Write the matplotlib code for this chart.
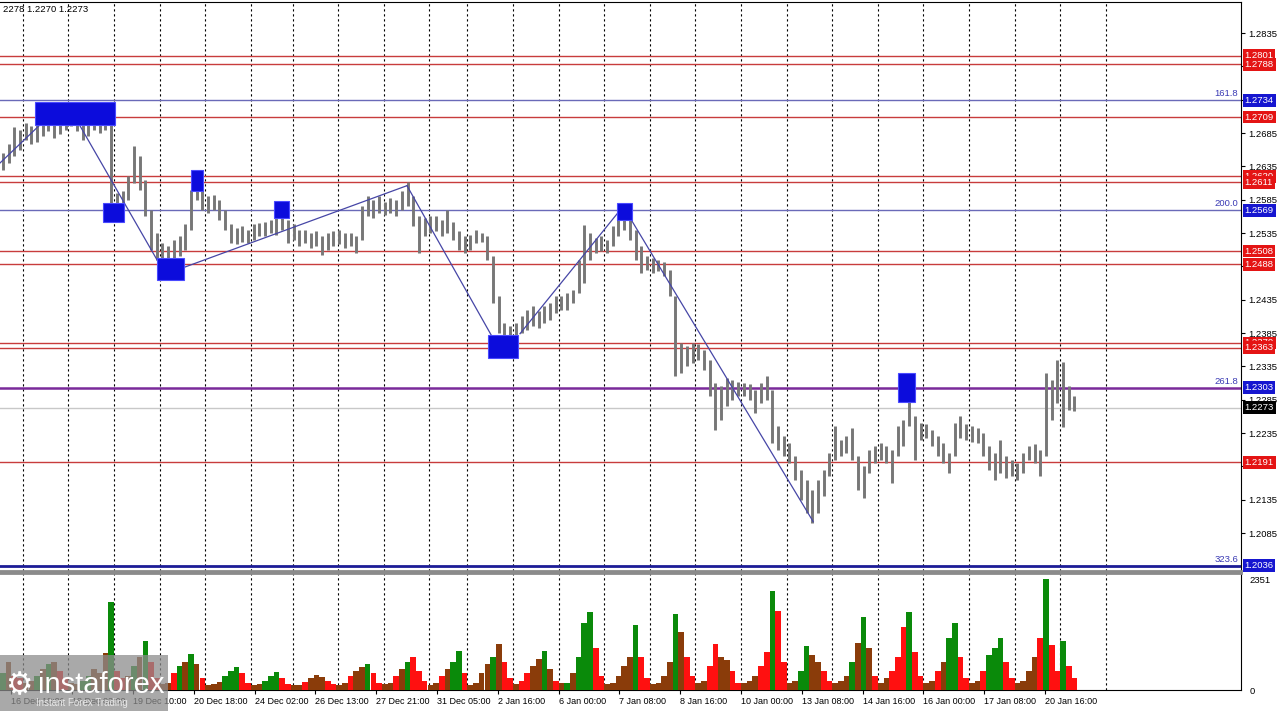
import numpy as np
import matplotlib.pyplot as plt
from matplotlib.patches import Rectangle
from matplotlib.transforms import blended_transform_factory

plt.rcParams['font.family'] = ['Liberation Sans', 'DejaVu Sans']

# 3-hour bars (x axis is in hours)
lows = [
    1.2630, 1.2640, 1.2650, 1.2660, 1.2675, 1.2668, 1.2672, 1.2680, 1.2688, 1.2678,
    1.2684, 1.2690, 1.2695, 1.2688, 1.2675, 1.2680, 1.2690, 1.2685, 1.2690, 1.2575,
    1.2565, 1.2570, 1.2585, 1.2610, 1.2600, 1.2560, 1.2510, 1.2495, 1.2488, 1.2490,
    1.2495, 1.2500, 1.2510, 1.2540, 1.2585, 1.2570, 1.2565, 1.2570, 1.2555, 1.2540,
    1.2520, 1.2518, 1.2522, 1.2520, 1.2525, 1.2530, 1.2530, 1.2535, 1.2532, 1.2540,
    1.2520, 1.2525, 1.2515, 1.2520, 1.2512, 1.2515, 1.2502, 1.2510, 1.2515, 1.2518,
    1.2512, 1.2515, 1.2505, 1.2525, 1.2560, 1.2558, 1.2565, 1.2562, 1.2565, 1.2560,
    1.2570, 1.2575, 1.2545, 1.2505, 1.2530, 1.2535, 1.2538, 1.2530, 1.2535, 1.2525,
    1.2510, 1.2505, 1.2510, 1.2520, 1.2522, 1.2495, 1.2430, 1.2385, 1.2370, 1.2375,
    1.2380, 1.2385, 1.2390, 1.2395, 1.2392, 1.2400, 1.2405, 1.2415, 1.2420, 1.2420,
    1.2430, 1.2445, 1.2460, 1.2495, 1.2505, 1.2508, 1.2505, 1.2515, 1.2530, 1.2540,
    1.2525, 1.2495, 1.2475, 1.2480, 1.2475, 1.2478, 1.2470, 1.2440, 1.2320, 1.2325,
    1.2335, 1.2340, 1.2345, 1.2330, 1.2290, 1.2240, 1.2255, 1.2275, 1.2285, 1.2290,
    1.2290, 1.2285, 1.2265, 1.2280, 1.2285, 1.2220, 1.2210, 1.2200, 1.2190, 1.2165,
    1.2135, 1.2115, 1.2100, 1.2115, 1.2140, 1.2170, 1.2195, 1.2200, 1.2205, 1.2195,
    1.2150, 1.2138, 1.2175, 1.2190, 1.2195, 1.2190, 1.2160, 1.2200, 1.2215, 1.2245,
    1.2195, 1.2225, 1.2228, 1.2215, 1.2200, 1.2190, 1.2175, 1.2200, 1.2228, 1.2225,
    1.2222, 1.2220, 1.2200, 1.2180, 1.2165, 1.2175, 1.2168, 1.2170, 1.2165, 1.2175,
    1.2195, 1.2190, 1.2170, 1.2200, 1.2255, 1.2280, 1.2244, 1.2270, 1.2268,
]
highs = [
    1.2655, 1.2668, 1.2694, 1.2690, 1.2700, 1.2695, 1.2702, 1.2712, 1.2715, 1.2708,
    1.2710, 1.2716, 1.2718, 1.2712, 1.2705, 1.2700, 1.2712, 1.2708, 1.2712, 1.2705,
    1.2595, 1.2598, 1.2620, 1.2665, 1.2650, 1.2615, 1.2570, 1.2535, 1.2520, 1.2515,
    1.2525, 1.2530, 1.2548, 1.2600, 1.2630, 1.2612, 1.2590, 1.2592, 1.2585, 1.2570,
    1.2548, 1.2542, 1.2545, 1.2540, 1.2548, 1.2550, 1.2552, 1.2555, 1.2558, 1.2565,
    1.2555, 1.2548, 1.2540, 1.2540, 1.2535, 1.2538, 1.2530, 1.2535, 1.2538, 1.2540,
    1.2535, 1.2535, 1.2530, 1.2575, 1.2590, 1.2585, 1.2590, 1.2582, 1.2588, 1.2585,
    1.2598, 1.2611, 1.2590, 1.2560, 1.2558, 1.2560, 1.2560, 1.2555, 1.2570, 1.2552,
    1.2538, 1.2530, 1.2532, 1.2540, 1.2535, 1.2530, 1.2500, 1.2440, 1.2400, 1.2395,
    1.2400, 1.2410, 1.2420, 1.2425, 1.2418, 1.2425, 1.2430, 1.2440, 1.2440, 1.2445,
    1.2450, 1.2495, 1.2547, 1.2535, 1.2528, 1.2530, 1.2525, 1.2545, 1.2560, 1.2570,
    1.2565, 1.2540, 1.2515, 1.2500, 1.2498, 1.2495, 1.2492, 1.2480, 1.2440, 1.2370,
    1.2365, 1.2370, 1.2368, 1.2360, 1.2345, 1.2310, 1.2305, 1.2318, 1.2315, 1.2312,
    1.2310, 1.2308, 1.2300, 1.2310, 1.2320, 1.2300, 1.2245, 1.2230, 1.2220, 1.2200,
    1.2180, 1.2165, 1.2150, 1.2165, 1.2180, 1.2205, 1.2245, 1.2225, 1.2230, 1.2242,
    1.2200, 1.2185, 1.2210, 1.2215, 1.2220, 1.2215, 1.2210, 1.2245, 1.2255, 1.2300,
    1.2260, 1.2250, 1.2248, 1.2240, 1.2230, 1.2220, 1.2205, 1.2250, 1.2260, 1.2248,
    1.2245, 1.2242, 1.2235, 1.2215, 1.2205, 1.2225, 1.2200, 1.2195, 1.2190, 1.2205,
    1.2215, 1.2218, 1.2210, 1.2325, 1.2315, 1.2345, 1.2342, 1.2305, 1.2290,
]
volumes = [
    350, 600, 300, 250,
    150, 200, 300, 450, 550, 600, 400, 250,
    150, 120, 200, 300, 450, 350, 780, 1855,
    400, 250, 300, 500, 700, 1035, 600, 250,
    120, 150, 350, 500, 600, 760, 550, 250,
    100, 120, 180, 300, 400, 480, 350, 150,
    100, 120, 200, 300, 390, 250, 120,
    100, 110, 180, 250, 320, 280, 200, 120,
    100, 150, 300, 400, 480, 560, 350, 150,
    120, 150, 300, 450, 600, 710, 400, 200,
    100, 150, 300, 450, 600, 835, 350,
    100, 150, 350, 550, 700, 980, 600, 250,
    120, 200, 350, 500, 650, 835, 450, 200,
    150, 150, 350, 700, 1430, 1655, 900, 300,
    120, 150, 300, 500, 700, 1377, 700, 250,
    130, 150, 300, 600, 1620, 1235, 700, 300,
    150, 200, 500, 980, 700, 640, 400, 150,
    150, 200, 300, 500, 800, 2100, 1675, 600,
    150, 200, 400, 930, 750, 600, 400, 200,
    150, 200, 300, 600, 1000, 1550, 890, 300,
    150, 250, 400, 700, 1335, 1660, 800, 300,
    150, 200, 400, 600, 1105, 1430, 700, 250,
    150, 200, 400, 750, 900, 1105, 600, 250,
    150, 200, 400, 700, 1100, 2351, 960, 400,
    1035, 500, 250,
]
vol_colors = ("gbrr" "bbgbgbrr" "bbggbbbg" "rrbgbgrr" "bbrgbgbr" "bbbgggrr" "bbgggrr"
              "bbrbbbrr" "bbrbbgrr" "bbrbgrrr" "bbrbggr" "bbbbgbrr" "brrbbgbr"
              "bgbgggrr" "bbbbbgrr" "bbbbgbrr" "bbrrbbrr" "bbbrrgrr" "bbggbbrr"
              "bbbgbgbr" "bbrrrgrr" "bbrbggrr" "bbrgggrr" "bbbbrgrr" "grr")

# day separators and time labels (hours)
day_breaks = [12, 36, 60, 84, 108, 132, 154, 178, 202, 226, 246, 270, 294, 318,
              342, 366, 390, 414, 438, 462, 486, 510, 534, 558, 582]
label_hours = [6, 38, 70, 102, 134, 166, 198, 230, 262, 294, 326, 358, 390, 422,
               454, 486, 518, 550]
label_text = ["16 Dec 18:00", "18 Dec 02:00", "19 Dec 10:00", "20 Dec 18:00",
              "24 Dec 02:00", "26 Dec 13:00", "27 Dec 21:00", "31 Dec 05:00",
              "2 Jan 16:00", "6 Jan 00:00", "7 Jan 08:00", "8 Jan 16:00",
              "10 Jan 00:00", "13 Jan 08:00", "14 Jan 16:00", "16 Jan 00:00",
              "17 Jan 08:00", "20 Jan 16:00"]

# levels
red_levels = [1.2801, 1.2788, 1.2709, 1.2620, 1.2611, 1.2508, 1.2488, 1.2370, 1.2363, 1.2191]
fib_levels = [1.2734, 1.2569, 1.2303, 1.2036]
fib_names = ["161.8", "200.0", "261.8", "323.6"]
last_price = 1.2273

# pivot markers (hour start, hour end, price low, price high)
box_h0 = [18.4, 54.2, 82.6, 100.5, 144.2, 256.8, 324.7, 472.6]
box_h1 = [60.5, 65.3, 96.8, 106.8, 152.1, 272.6, 332.6, 481.6]
box_p0 = [1.2697, 1.2552, 1.2465, 1.2598, 1.2557, 1.2348, 1.2555, 1.2281]
box_p1 = [1.2731, 1.2580, 1.2498, 1.2630, 1.2583, 1.2382, 1.2580, 1.2325]

# zigzag segments
zz_h0 = [0, 35.8, 97.4, 214.2, 273.7, 329]
zz_h1 = [31.6, 84.2, 214.2, 259.5, 327.4, 428]
zz_p0 = [1.2640, 1.2727, 1.2484, 1.2606, 1.2384, 1.2570]
zz_p1 = [1.2726, 1.2487, 1.2606, 1.2377, 1.2573, 1.2102]

bar_x = np.arange(len(lows)) * 3 + 1.5

fig = plt.figure(figsize=(12.8, 7.11), dpi=100)
ax = fig.add_axes([0, 1 - 571 / 711, 1241 / 1280, 569 / 711])
axv = fig.add_axes([0, 21 / 711, 1241 / 1280, 117 / 711], sharex=ax)

xmax = 1241 / 1.9
ax.set_xlim(0, xmax)
ax.set_ylim(1.2028, 1.28815)

for d in day_breaks:
    ax.axvline(d, color='black', ls=(0, (2, 2.5)), lw=0.8, zorder=1)
    axv.axvline(d, color='black', ls=(0, (2, 2.5)), lw=0.8, zorder=1)

for p in red_levels:
    ax.axhline(p, color='#c83c3c', lw=1.0, zorder=2)
fib_cols = ['#6a6ab8', '#6a6ab8', '#7a2a9a', '#1c1c96']
fib_lw = [1.0, 1.0, 1.8, 2.0]
for p, c, w in zip(fib_levels, fib_cols, fib_lw):
    ax.axhline(p, color=c, lw=w, zorder=2)
ax.axhline(last_price, color='#c8c8c8', lw=1.0, zorder=2)

ax.vlines(bar_x, lows, highs, color='#777777', lw=2.1, zorder=3)

for a, b, c, d in zip(zz_h0, zz_h1, zz_p0, zz_p1):
    ax.plot([a, b], [c, d], color='#4646a6', lw=0.9, zorder=4)

for a, b, c, d in zip(box_h0, box_h1, box_p0, box_p1):
    ax.add_patch(Rectangle((a, c), b - a, d - c, facecolor='#0c0cdc',
                           edgecolor='#4a4aff', lw=0.8, zorder=5))

# price axis on the right; labels hidden under level boxes are left blank
ax.yaxis.tick_right()
ticks = np.arange(1.2085, 1.2836, 0.005)
marked = red_levels + fib_levels + [last_price]
tick_lbls = []
for t in ticks:
    near = min(abs(t - m) for m in marked)
    tick_lbls.append("" if near < 0.0009 else f"{t:.4f}")
ax.set_yticks(ticks)
ax.set_yticklabels(tick_lbls)
ax.tick_params(axis='y', labelsize=6.8, length=3, pad=2, colors='black')
ax.tick_params(axis='x', bottom=False, labelbottom=False)
ax.spines['left'].set_visible(False)
ax.spines['bottom'].set_color('#8a8a8a')
ax.spines['bottom'].set_linewidth(2)

tr = blended_transform_factory(ax.transAxes, ax.transData)
for p in red_levels:
    ax.text(1.003, p, f"{p:.4f}", transform=tr, ha='left', va='center', fontsize=6.8,
            color='white', clip_on=False, zorder=10,
            bbox=dict(boxstyle='square,pad=0.18', fc='#e41414', ec='none'))
for p in fib_levels:
    ax.text(1.003, p, f"{p:.4f}", transform=tr, ha='left', va='center', fontsize=6.8,
            color='white', clip_on=False, zorder=10,
            bbox=dict(boxstyle='square,pad=0.18', fc='#1616d0', ec='none'))
ax.text(1.003, last_price, f"{last_price:.4f}", transform=tr, ha='left', va='center',
        fontsize=6.8, color='white', clip_on=False, zorder=10,
        bbox=dict(boxstyle='square,pad=0.18', fc='black', ec='none'))
for p, n in zip(fib_levels, fib_names):
    ax.text(0.9975, p + 0.0003, n, transform=tr, ha='right', va='bottom',
            fontsize=6.8, color='#3a3ab4', zorder=6)

# volumes
cmap = {'g': '#0a8a0a', 'r': '#ff1010', 'b': '#8a3c0a'}
axv.bar(bar_x, volumes, width=3, color=[cmap[c] for c in vol_colors], zorder=3)
axv.set_ylim(0, 2480)
axv.yaxis.tick_right()
axv.set_yticks([0, 2351])
axv.set_yticklabels(["0", "2351"])
axv.tick_params(axis='y', labelsize=6.8, length=0, pad=6)
axv.set_xticks(label_hours)
axv.set_xticklabels(label_text, ha='left')
axv.tick_params(axis='x', labelsize=6.5, length=3, pad=2)
axv.spines['left'].set_visible(False)
axv.spines['top'].set_color('#8a8a8a')
axv.spines['top'].set_linewidth(2)

fig.text(0.002, 0.986, "2278 1.2270 1.2273", fontsize=6.8, color='black', va='center')

# watermark
fig.patches.append(Rectangle((0, 0), 168 / 1280, 56 / 711, transform=fig.transFigure,
                             facecolor='#8c8c8c', alpha=0.75, edgecolor='none', zorder=20))
fig.text(5 / 1280, 1 - 686 / 711, "\u2699", fontsize=22, color='white', va='center',
         family='DejaVu Sans', zorder=21)
fig.text(38 / 1280, 1 - 685 / 711, "instaforex", fontsize=21, color='white', va='center', zorder=21)
fig.text(36 / 1280, 1 - 703 / 711, "Instant Forex Trading", fontsize=7, color='#e8e8e8',
         va='center', zorder=21)

fig.savefig("out.png", dpi=100)
